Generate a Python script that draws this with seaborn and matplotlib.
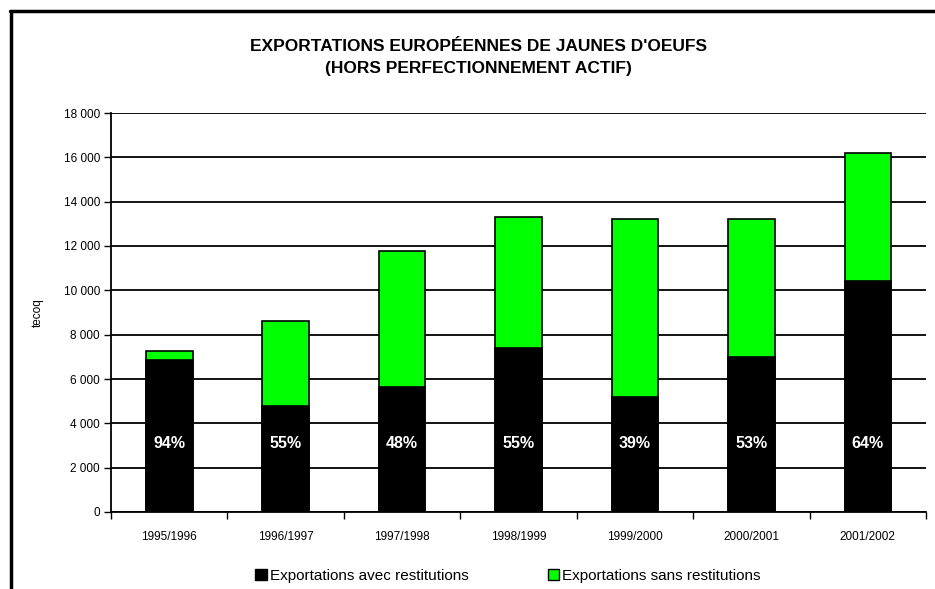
import matplotlib
matplotlib.use("Agg")
import matplotlib.pyplot as plt
import seaborn as sns
import pandas as pd
from matplotlib.patches import Patch
from matplotlib.lines import Line2D
from matplotlib.ticker import FuncFormatter, FixedLocator

categories = ["1995/1996", "1996/1997", "1997/1998", "1998/1999", "1999/2000", "2000/2001", "2001/2002"]
avec_restitutions = [6860, 4760, 5660, 7380, 5210, 7010, 10400]
totals = [7270, 8630, 11760, 13310, 13200, 13200, 16200]
pct_labels = ["94%", "55%", "48%", "55%", "39%", "53%", "64%"]

title = "EXPORTATIONS EUROPÉENNES DE JAUNES D'OEUFS\n(HORS PERFECTIONNEMENT ACTIF)"
ylabel = "tecoq"
legend_labels = ["Exportations avec restitutions", "Exportations sans restitutions"]

sns.set_theme(style="white")
plt.rcParams['font.family'] = ['Liberation Sans', 'DejaVu Sans']
plt.rcParams['text.color'] = 'black'
plt.rcParams['axes.labelcolor'] = 'black'

df = pd.DataFrame({"cat": categories, "avec": avec_restitutions, "total": totals})

fig = plt.figure(figsize=(9.35, 5.89), dpi=100)
ax = fig.add_axes([111/935, 1-512/589, (926-111)/935, (512-113)/589])

green = "#00FF00"
sns.barplot(data=df, x="cat", y="total", color=green, edgecolor="black", linewidth=1.2,
            width=0.4, ax=ax, saturation=1, zorder=3)
sns.barplot(data=df, x="cat", y="avec", color="black", edgecolor="black", linewidth=1.2,
            width=0.4, ax=ax, saturation=1, zorder=4)

ax.set_ylim(0, 18000)
ax.set_xlim(-0.5, len(categories) - 0.5)
ax.set_yticks(range(0, 18001, 2000))
ax.yaxis.set_major_formatter(FuncFormatter(lambda v, p: f"{int(v):,}".replace(",", " ")))
ax.grid(axis="y", color="black", linewidth=1.3, zorder=0)
ax.set_axisbelow(True)

for s in ["top", "right"]:
    ax.spines[s].set_visible(False)
for s in ["left", "bottom"]:
    ax.spines[s].set_color("black")
    ax.spines[s].set_linewidth(1.3)

ax.tick_params(axis="y", which="major", left=True, length=5, width=1, color="black",
               labelsize=8.5, labelcolor="black", pad=3)
ax.tick_params(axis="x", which="major", bottom=False, labelsize=8.5, labelcolor="black", pad=8)
ax.xaxis.set_minor_locator(FixedLocator([i + 0.5 for i in range(-1, len(categories))]))
ax.tick_params(axis="x", which="minor", bottom=True, length=5, width=1, color="black")

ax.set_xlabel("")
ax.set_ylabel(ylabel, fontsize=8.5, color="black", labelpad=14)

for i, lab in enumerate(pct_labels):
    ax.text(i, 3100, lab, ha="center", va="center", color="white",
            fontsize=11.5, fontweight="bold", zorder=6)

fig.text(478/935, 1-57.5/589, title, ha="center", va="center", fontsize=12.5,
         fontweight="bold", linespacing=1.6)

handles = [Patch(facecolor="black", edgecolor="black"),
           Patch(facecolor=green, edgecolor="black")]
fig.legend(handles, legend_labels, loc="center", bbox_to_anchor=(508/935, 1-576/589),
           ncol=2, frameon=False, fontsize=11, handlelength=0.75, handleheight=0.75,
           handletextpad=0.2, columnspacing=5.2, borderpad=0)

# outer frame (left and top edges visible)
fig.add_artist(Line2D([11/935, 11/935], [0, 1-10.5/589], color="black", linewidth=2.5,
                      transform=fig.transFigure))
fig.add_artist(Line2D([10/935, 1], [1-10.5/589, 1-10.5/589], color="black", linewidth=2.5,
                      transform=fig.transFigure))

fig.savefig("out.png", dpi=100)
